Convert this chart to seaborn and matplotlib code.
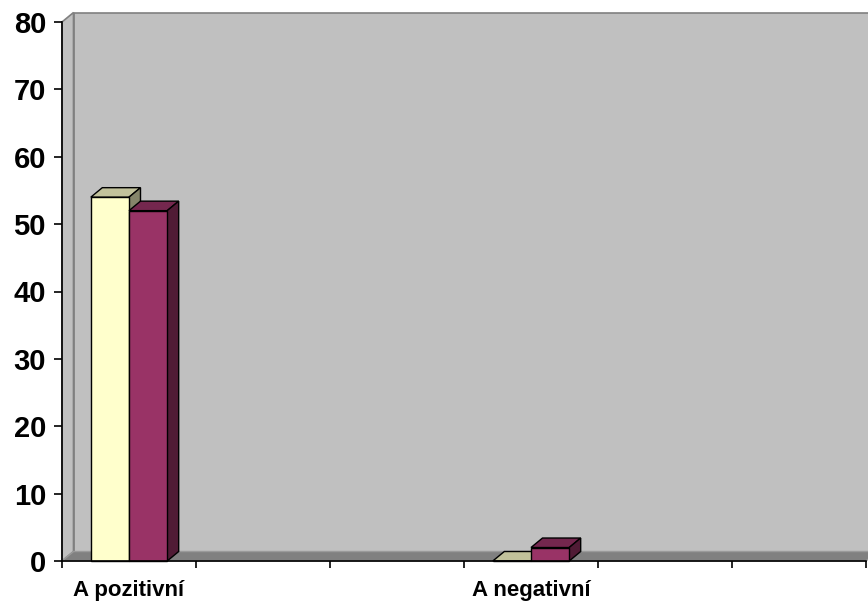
import numpy as np
import pandas as pd
import matplotlib
matplotlib.use("Agg")
import matplotlib.pyplot as plt
import seaborn as sns
from matplotlib.patches import Polygon, Rectangle
from matplotlib.colors import to_rgb

# ---- data ----
categories = ["A pozitivní", "A negativní"]
series_names = ["Řada 1", "Řada 2"]
series1 = [54, 0]
series2 = [52, 2]
y_ticks = [0, 10, 20, 30, 40, 50, 60, 70, 80]
front_colors = ["#FFFFCC", "#993366"]

# the visible category axis holds six slots; the two labelled ones are slot 0 and slot 3
n_slots = 6
label_slots = [0, 3]

df = pd.DataFrame({
    "category": categories * 2,
    "series": [series_names[0]] * len(categories) + [series_names[1]] * len(categories),
    "value": series1 + series2,
})

order = []
cat_iter = iter(categories)
for i in range(n_slots):
    order.append(next(cat_iter) if i in label_slots else "\u200b" * (i + 1))

plt.rcParams["font.family"] = ["Liberation Sans", "DejaVu Sans"]

W, H = 868, 601
fig = plt.figure(figsize=(W / 100, H / 100), dpi=100)
fig.patch.set_facecolor("white")
ax = fig.add_axes([62 / W, 1 - 561 / H, (866 - 62) / W, (561 - 22) / H])
ax.set_facecolor("none")

sns.barplot(data=df, x="category", y="value", hue="series", order=order,
            hue_order=series_names, palette=front_colors, width=0.57, dodge=True,
            saturation=1, edgecolor="black", linewidth=1.0, errorbar=None,
            legend=False, ax=ax)

x_lo, x_hi = -0.5, n_slots - 0.5
ax.set_xlim(x_lo, x_hi)
ax.set_ylim(y_ticks[0], y_ticks[-1])

# 3D depth offset in pixels -> data units
dx_px, dy_px = 11.5, 9.5
p0 = ax.transData.transform((0, 0))
p1 = ax.transData.transform((1, 1))
ddx = dx_px / (p1[0] - p0[0])
ddy = dy_px / (p1[1] - p0[1])
ymax = y_ticks[-1]

# walls and floor
wall_c, wall_e = "#C0C0C0", "#808080"
ax.add_patch(Rectangle((x_lo + ddx, ddy), x_hi - x_lo, ymax, facecolor=wall_c,
                       edgecolor=wall_e, lw=1.2, clip_on=False, zorder=0.2))
ax.add_patch(Polygon([(x_lo, 0), (x_lo, ymax), (x_lo + ddx, ymax + ddy), (x_lo + ddx, ddy)],
                     closed=True, facecolor=wall_c, edgecolor=wall_e, lw=1.2,
                     clip_on=False, zorder=0.25))
ax.add_patch(Polygon([(x_lo, 0), (x_hi, 0), (x_hi + ddx, ddy), (x_lo + ddx, ddy)],
                     closed=True, facecolor="#808080", edgecolor="#9A9A9A", lw=1.0,
                     clip_on=False, zorder=0.3))

# 3D top and side faces of the bars
bars = [p for p in ax.patches if isinstance(p, Rectangle) and p.get_edgecolor()[:3] == (0, 0, 0)]
bars = sorted(bars, key=lambda p: p.get_x())
for rank, p in enumerate(bars):
    x0, w, h = p.get_x(), p.get_width(), p.get_height()
    x1 = x0 + w
    base = np.array(to_rgb(p.get_facecolor()))
    top_c = base * 0.76
    side_c = base * 0.52
    zf = 1.0 + rank * 0.1
    p.set_zorder(zf)
    p.set_clip_on(False)
    ax.add_patch(Polygon([(x0, h), (x1, h), (x1 + ddx, h + ddy), (x0 + ddx, h + ddy)],
                         closed=True, facecolor=top_c, edgecolor="black", lw=1.0,
                         clip_on=False, zorder=zf - 0.05, joinstyle="miter"))
    if h > 0:
        ax.add_patch(Polygon([(x1, 0), (x1, h), (x1 + ddx, h + ddy), (x1 + ddx, ddy)],
                             closed=True, facecolor=side_c, edgecolor="black", lw=1.0,
                             clip_on=False, zorder=zf - 0.05, joinstyle="miter"))

# axes styling
for s in ["top", "right"]:
    ax.spines[s].set_visible(False)
for s in ["left", "bottom"]:
    ax.spines[s].set_color("black")
    ax.spines[s].set_linewidth(1.2)
    ax.spines[s].set_zorder(3)

ax.set_yticks(y_ticks)
ax.set_yticklabels([str(t) for t in y_ticks], fontsize=21, fontweight="bold")
ax.tick_params(axis="y", direction="out", length=6, width=1.2, pad=5.5, colors="black")

ax.set_xticks(np.arange(x_lo, x_hi + 0.01, 1.0))
ax.set_xticklabels([])
ax.tick_params(axis="x", which="major", direction="out", length=5, width=1.2, colors="black")
ax.set_xticks(label_slots, minor=True)
ax.set_xticklabels(categories, minor=True, fontsize=16, fontweight="bold")
ax.tick_params(axis="x", which="minor", length=0, pad=14)

ax.set_xlabel("")
ax.set_ylabel("")

fig.savefig("out.png", dpi=100)
